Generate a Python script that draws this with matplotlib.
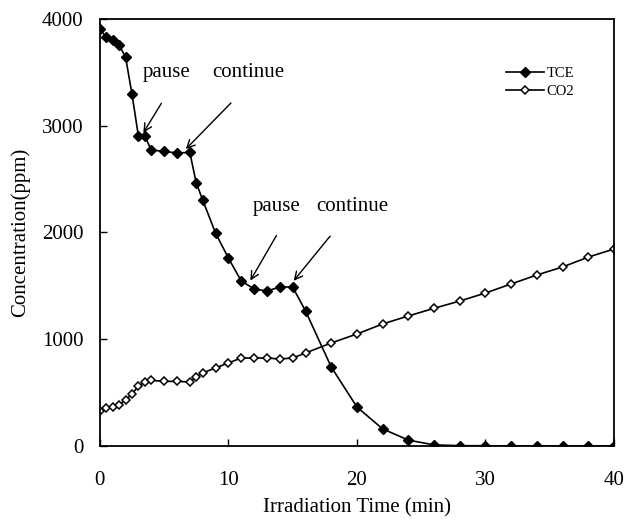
import matplotlib
matplotlib.use("Agg")
from matplotlib import pyplot as plt

plt.rcParams['font.family'] = ['Liberation Serif', 'DejaVu Serif']

# irradiation time (min)
time = [0, 0.5, 1, 1.5, 2, 2.5, 3, 3.5, 4, 5, 6, 7, 7.5, 8, 9, 10, 11, 12, 13, 14, 15,
        16, 18, 20, 22, 24, 26, 28, 30, 32, 34, 36, 38, 40]
tce = [3906, 3831, 3803, 3756, 3644, 3297, 2904, 2904, 2773, 2760, 2745, 2750, 2464, 2305,
       1995, 1761, 1546, 1471, 1452, 1489, 1489, 1265, 740, 365, 160, 55, 10, 3, 2, 1, 1, 1, 1, 1]
co2 = [330, 356, 365, 384, 431, 487, 560, 600, 615, 605, 605, 600, 646, 684, 731, 778, 824,
       824, 824, 815, 824, 871, 965, 1049, 1143, 1218, 1290, 1358, 1433, 1518, 1602, 1677,
       1770, 1845]

fig = plt.figure(figsize=(6.24, 5.21), dpi=100)
ax = fig.add_axes([0.160, 0.144, 0.824, 0.8195])

ax.plot(time, tce, color='black', lw=1.2, marker='D', ms=5.2, mfc='black', mec='black',
        label='TCE')
ax.plot(time, co2, color='black', lw=1.2, marker='D', ms=4.5, mfc='white', mec='black',
        mew=1.1, label='CO2')

ax.set_xlim(0, 40)
ax.set_ylim(0, 4000)
ax.set_xticks([0, 10, 20, 30, 40])
ax.set_yticks([0, 1000, 2000, 3000, 4000])
ax.tick_params(direction='in', length=5, width=1, labelsize=15)
ax.tick_params(axis='x', pad=18)
ax.tick_params(axis='y', pad=12)
for s in ax.spines.values():
    s.set_linewidth(1.3)

ax.set_xlabel('Irradiation Time (min)', fontsize=15, labelpad=6)
ax.set_ylabel('Concentration(ppm)', fontsize=15, labelpad=8)

# pause / continue markers
arr = dict(arrowstyle='->', color='black', lw=1, mutation_scale=14)
ax.text(3.35, 3503, 'pause', fontsize=15, va='center', ha='left')
ax.text(8.72, 3503, 'continue', fontsize=15, va='center', ha='left')
ax.annotate('', xy=(3.27, 2913), xytext=(4.9, 3232), arrowprops=arr)
ax.annotate('', xy=(6.54, 2763), xytext=(10.35, 3232), arrowprops=arr)

ax.text(11.9, 2239, 'pause', fontsize=15, va='center', ha='left')
ax.text(16.8, 2239, 'continue', fontsize=15, va='center', ha='left')
ax.annotate('', xy=(11.6, 1527), xytext=(13.85, 1995), arrowprops=arr)
ax.annotate('', xy=(14.94, 1527), xytext=(18.05, 1986), arrowprops=arr)

ax.legend(loc='upper left', bbox_to_anchor=(0.775, 0.905), frameon=False, fontsize=10.5,
          handlelength=2.6, handletextpad=0.2, labelspacing=0.35, borderpad=0)

fig.savefig('out.png', dpi=100)
